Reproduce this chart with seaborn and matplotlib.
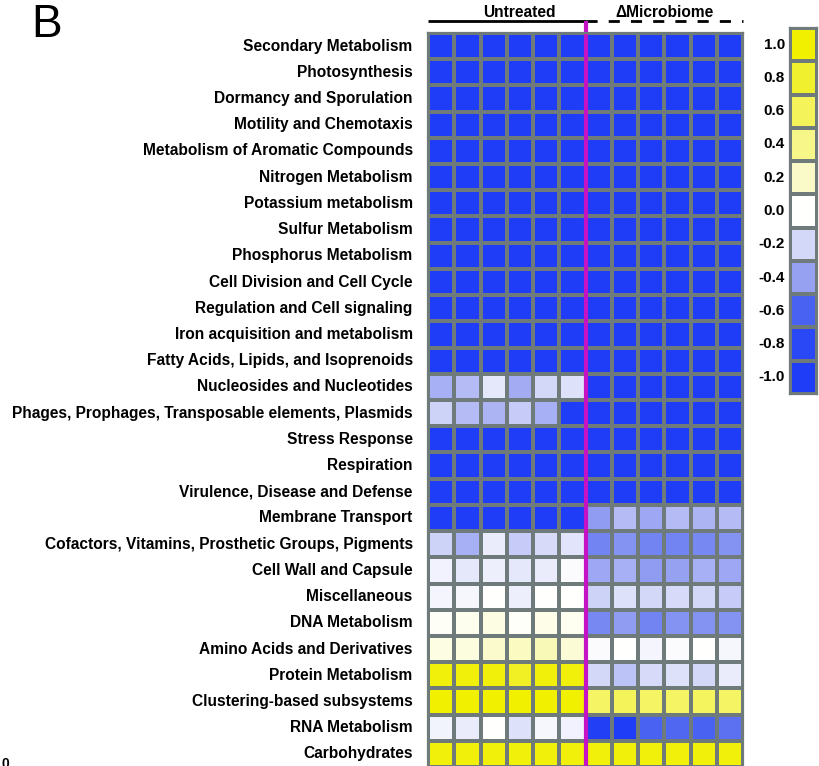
import matplotlib
matplotlib.use("Agg")
import matplotlib.pyplot as plt
from matplotlib.colors import LinearSegmentedColormap
import numpy as np
import pandas as pd
import seaborn as sns

sns.set_style("white")
plt.rcParams["font.family"] = ["Liberation Sans", "DejaVu Sans"]
plt.rcParams["text.color"] = "black"
plt.rcParams["ytick.color"] = "black"
plt.rcParams["ytick.labelcolor"] = "black"

# Functional categories (rows, top to bottom)
categories = [
    "Secondary Metabolism",
    "Photosynthesis",
    "Dormancy and Sporulation",
    "Motility and Chemotaxis",
    "Metabolism of Aromatic Compounds",
    "Nitrogen Metabolism",
    "Potassium metabolism",
    "Sulfur Metabolism",
    "Phosphorus Metabolism",
    "Cell Division and Cell Cycle",
    "Regulation and Cell signaling",
    "Iron acquisition and metabolism",
    "Fatty Acids, Lipids, and Isoprenoids",
    "Nucleosides and Nucleotides",
    "Phages, Prophages, Transposable elements, Plasmids",
    "Stress Response",
    "Respiration",
    "Virulence, Disease and Defense",
    "Membrane Transport",
    "Cofactors, Vitamins, Prosthetic Groups, Pigments",
    "Cell Wall and Capsule",
    "Miscellaneous",
    "DNA Metabolism",
    "Amino Acids and Derivatives",
    "Protein Metabolism",
    "Clustering-based subsystems",
    "RNA Metabolism",
    "Carbohydrates",
]

groups = ["Untreated", "\u0394Microbiome"]

# Correlation values, six samples per group
untreated = [
    [-1.0, -1.0, -1.0, -1.0, -1.0, -1.0],
    [-1.0, -1.0, -1.0, -1.0, -1.0, -1.0],
    [-1.0, -1.0, -1.0, -1.0, -1.0, -1.0],
    [-1.0, -1.0, -1.0, -1.0, -1.0, -1.0],
    [-1.0, -1.0, -1.0, -1.0, -1.0, -1.0],
    [-1.0, -1.0, -1.0, -1.0, -1.0, -1.0],
    [-1.0, -1.0, -1.0, -1.0, -1.0, -1.0],
    [-1.0, -1.0, -1.0, -1.0, -1.0, -1.0],
    [-1.0, -1.0, -1.0, -1.0, -1.0, -1.0],
    [-1.0, -1.0, -1.0, -1.0, -1.0, -1.0],
    [-1.0, -1.0, -1.0, -1.0, -1.0, -1.0],
    [-1.0, -1.0, -1.0, -1.0, -1.0, -1.0],
    [-1.0, -1.0, -1.0, -1.0, -1.0, -1.0],
    [-0.35, -0.30, -0.12, -0.36, -0.20, -0.15],
    [-0.22, -0.30, -0.33, -0.25, -0.35, -1.0],
    [-1.0, -1.0, -1.0, -1.0, -1.0, -1.0],
    [-1.0, -1.0, -1.0, -1.0, -1.0, -1.0],
    [-1.0, -1.0, -1.0, -1.0, -1.0, -1.0],
    [-1.0, -1.0, -1.0, -1.0, -1.0, -1.0],
    [-0.22, -0.35, -0.10, -0.25, -0.18, -0.14],
    [-0.07, -0.12, -0.08, -0.12, -0.10, -0.02],
    [-0.05, -0.04, 0.0, -0.08, 0.0, 0.0],
    [0.03, 0.06, 0.10, 0.02, 0.08, 0.05],
    [0.10, 0.12, 0.18, 0.22, 0.25, 0.15],
    [0.95, 0.95, 0.95, 0.85, 0.95, 0.95],
    [1.0, 1.0, 1.0, 1.0, 1.0, 1.0],
    [-0.06, -0.10, 0.0, -0.15, -0.04, -0.07],
    [0.95, 0.95, 0.95, 0.95, 0.95, 0.95],
]

microbiome = [
    [-1.0, -1.0, -1.0, -1.0, -1.0, -1.0],
    [-1.0, -1.0, -1.0, -1.0, -1.0, -1.0],
    [-1.0, -1.0, -1.0, -1.0, -1.0, -1.0],
    [-1.0, -1.0, -1.0, -1.0, -1.0, -1.0],
    [-1.0, -1.0, -1.0, -1.0, -1.0, -1.0],
    [-1.0, -1.0, -1.0, -1.0, -1.0, -1.0],
    [-1.0, -1.0, -1.0, -1.0, -1.0, -1.0],
    [-1.0, -1.0, -1.0, -1.0, -1.0, -1.0],
    [-1.0, -1.0, -1.0, -1.0, -1.0, -1.0],
    [-1.0, -1.0, -1.0, -1.0, -1.0, -1.0],
    [-1.0, -1.0, -1.0, -1.0, -1.0, -1.0],
    [-1.0, -1.0, -1.0, -1.0, -1.0, -1.0],
    [-1.0, -1.0, -1.0, -1.0, -1.0, -1.0],
    [-1.0, -1.0, -1.0, -1.0, -1.0, -1.0],
    [-1.0, -1.0, -1.0, -1.0, -1.0, -1.0],
    [-1.0, -1.0, -1.0, -1.0, -1.0, -1.0],
    [-1.0, -1.0, -1.0, -1.0, -1.0, -1.0],
    [-1.0, -1.0, -1.0, -1.0, -1.0, -1.0],
    [-0.42, -0.30, -0.38, -0.30, -0.33, -0.30],
    [-0.50, -0.45, -0.50, -0.50, -0.48, -0.45],
    [-0.38, -0.35, -0.42, -0.40, -0.35, -0.38],
    [-0.22, -0.15, -0.20, -0.18, -0.20, -0.25],
    [-0.48, -0.42, -0.50, -0.45, -0.45, -0.45],
    [-0.02, 0.0, -0.05, -0.02, 0.0, -0.04],
    [-0.20, -0.28, -0.18, -0.15, -0.20, -0.10],
    [0.55, 0.60, 0.55, 0.55, 0.58, 0.55],
    [-0.95, -1.0, -0.60, -0.58, -0.60, -0.55],
    [0.95, 0.95, 0.95, 0.95, 0.95, 0.95],
]

# Colour scale levels shown in the key
scale_levels = [1.0, 0.8, 0.6, 0.4, 0.2, 0.0, -0.2, -0.4, -0.6, -0.8, -1.0]
scale_labels = ["1.0", "0.8", "0.6", "0.4", "0.2", "0.0",
                "-0.2", "-0.4", "-0.6", "-0.8", "-1.0"]

# Blue - white - yellow diverging palette
anchor_colors = ["#1f3cf6", "#2a48f6", "#4a62f2", "#98a2f2", "#d4d8f8",
                 "#ffffff", "#fafac8", "#f6f68a", "#f4f45a", "#f0f030", "#f0f000"]
cmap = LinearSegmentedColormap.from_list(
    "bwy", list(zip(np.linspace(0, 1, len(anchor_colors)), anchor_colors)))

grid_color = "#6f7b7b"
n_per_group = len(untreated[0])
columns = [f"{groups[0]} {i + 1}" for i in range(n_per_group)] + \
          [f"{groups[1]} {i + 1}" for i in range(n_per_group)]
matrix = pd.DataFrame(np.hstack([np.array(untreated), np.array(microbiome)]),
                      index=categories, columns=columns)

W, H = 819, 766
fig = plt.figure(figsize=(W / 100, H / 100), dpi=100)

# Main heatmap
ax = fig.add_axes([428 / W, 1 - 767 / H, (743 - 428) / W, (767 - 33) / H])
sns.heatmap(matrix, ax=ax, cmap=cmap, vmin=-1, vmax=1, cbar=False,
            linewidths=1.6, linecolor=grid_color,
            xticklabels=False, yticklabels=True)
ax.tick_params(axis="y", length=0, pad=11)
for lbl in ax.get_yticklabels():
    lbl.set_rotation(0)
    lbl.set_fontweight("bold")
    lbl.set_fontsize(11.2)
    lbl.set_color("black")
for sp in ax.spines.values():
    sp.set_visible(True)
    sp.set_color(grid_color)
    sp.set_linewidth(1.6)

# Group headers with solid / dashed bars and the divider
top_y = -0.46
ax.plot([0, n_per_group], [top_y, top_y], color="black", lw=2, clip_on=False,
        solid_capstyle="butt")
ax.plot([n_per_group, 2 * n_per_group], [top_y, top_y], color="black", lw=2,
        ls=(0, (4, 4)), clip_on=False)
ax.plot([n_per_group, n_per_group], [top_y, len(categories)], color="#c412c4",
        lw=3, clip_on=False, solid_capstyle="butt")
ax.text(3.5, -0.77, groups[0], ha="center", va="center",
        fontsize=11.2, fontweight="bold", color="black")
ax.text(9.0, -0.77, groups[1], ha="center", va="center",
        fontsize=11.2, fontweight="bold", color="black")

# Colour key drawn as a one-column heatmap
cax = fig.add_axes([790 / W, 1 - 394 / H, 27 / W, (394 - 28) / H])
key = pd.DataFrame({"r": scale_levels}, index=scale_labels)
sns.heatmap(key, ax=cax, cmap=cmap, vmin=-1, vmax=1, cbar=False,
            linewidths=1.6, linecolor=grid_color,
            xticklabels=False, yticklabels=True)
cax.tick_params(axis="y", length=0, pad=3.6)
for lbl in cax.get_yticklabels():
    lbl.set_rotation(0)
    lbl.set_fontweight("bold")
    lbl.set_fontsize(11)
    lbl.set_color("black")
for sp in cax.spines.values():
    sp.set_visible(True)
    sp.set_color(grid_color)
    sp.set_linewidth(1.6)

# Panel letter
fig.text(31 / W, 1 - 25 / H, "B", fontsize=33, ha="left", va="center",
         color="black")
fig.text(1 / W, 1 - 757 / H, "0", fontsize=10, fontweight="bold",
         ha="left", va="top", color="black")

fig.savefig("out.png", dpi=100)
